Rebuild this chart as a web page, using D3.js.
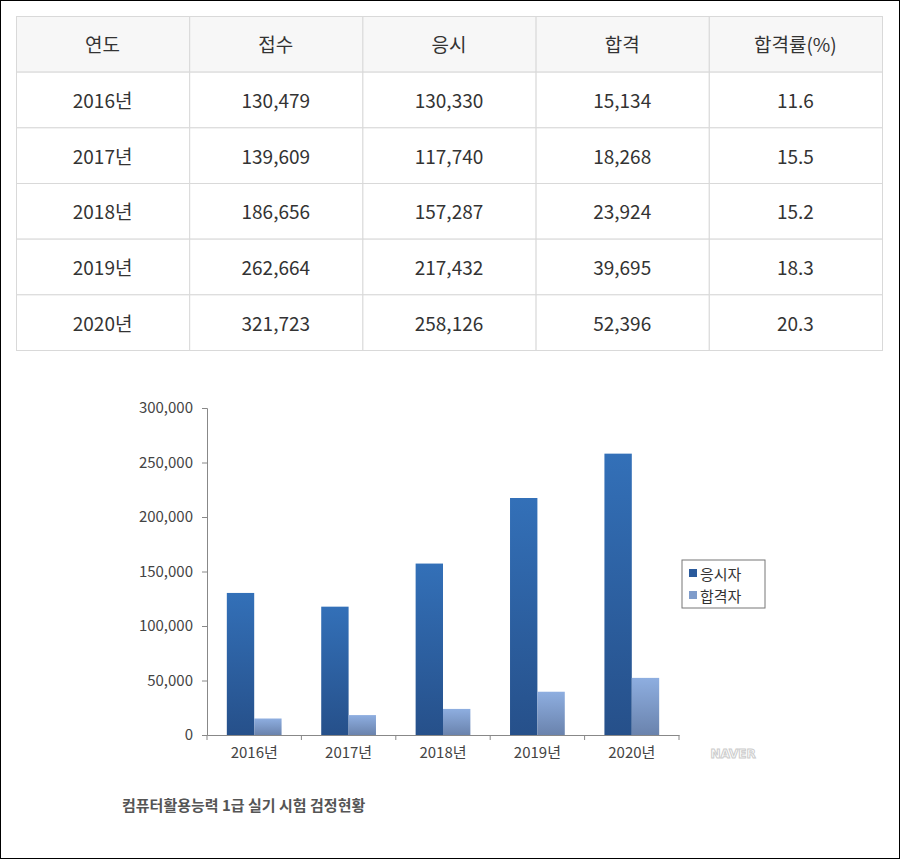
<!DOCTYPE html>
<html><head><meta charset="utf-8">
<script src="https://cdn.jsdelivr.net/npm/d3@7"></script>
<style>
body{margin:0;background:#fff;font-family:"Noto Sans CJK KR","Noto Sans",sans-serif;}
</style></head><body>
<svg id="c" width="900" height="859"></svg>
<script>
// table data
var headers = ["연도", "접수", "응시", "합격", "합격률(%)"];
var years = ["2016년", "2017년", "2018년", "2019년", "2020년"];
var applied = [130479, 139609, 186656, 262664, 321723];
var tested = [130330, 117740, 157287, 217432, 258126];
var passed = [15134, 18268, 23924, 39695, 52396];
var passRate = [11.6, 15.5, 15.2, 18.3, 20.3];
var seriesNames = ["응시자", "합격자"];
var yTicks = [0, 50000, 100000, 150000, 200000, 250000, 300000];

var svg = d3.select("#c");
svg.append("rect").attr("x", 0.5).attr("y", 0.5).attr("width", 899).attr("height", 858)
	.attr("fill", "#fff").attr("stroke", "#000");

//---- table
var tx = d3.scaleBand().domain(d3.range(5)).range([16, 882]);
var ty = d3.scaleBand().domain(d3.range(6)).range([16, 350]);
var fmt = d3.format(",");
var rows = [headers].concat(years.map(function (y, i) {
	return [y, fmt(applied[i]), fmt(tested[i]), fmt(passed[i]), passRate[i].toFixed(1)];
}));
var tg = svg.append("g");
rows.forEach(function (r, ri) {
	r.forEach(function (cell, ci) {
		tg.append("rect").attr("x", tx(ci) + 0.5).attr("y", ty(ri) + 0.5)
			.attr("width", tx.bandwidth()).attr("height", ty.bandwidth())
			.attr("fill", ri == 0 ? "#f7f7f7" : "#fff").attr("stroke", "#d9d9d9");
		tg.append("text").attr("x", tx(ci) + tx.bandwidth() / 2).attr("y", ty(ri) + ty.bandwidth() / 2)
			.attr("text-anchor", "middle").attr("dominant-baseline", "central")
			.attr("font-size", 19).attr("fill", "#333").text(cell);
	});
});

//---- chart
var x = d3.scaleBand().domain(years).range([207, 679]).paddingInner(0.42).paddingOuter(0.21);
var xs = d3.scaleBand().domain(seriesNames).range([0, x.bandwidth()]);
var y = d3.scaleLinear().domain([0, 300000]).range([735, 408]);

var defs = svg.append("defs");
function grad(id, top, bottom) {
	var g = defs.append("linearGradient").attr("id", id).attr("x1", 0).attr("y1", 0).attr("x2", 0).attr("y2", 1);
	g.append("stop").attr("offset", "0%").attr("stop-color", top);
	g.append("stop").attr("offset", "100%").attr("stop-color", bottom);
}
grad("g0", "#3370b8", "#26508a");
grad("g1", "#8eaee0", "#6a83ad");
var fills = ["url(#g0)", "url(#g1)"];

var series = [tested, passed];
series.forEach(function (vals, si) {
	svg.append("g").selectAll("rect").data(vals).enter().append("rect")
		.attr("x", function (d, i) { return x(years[i]) + xs(seriesNames[si]); })
		.attr("y", function (d) { return y(d); })
		.attr("width", xs.bandwidth())
		.attr("height", function (d) { return y(0) - y(d); })
		.attr("fill", fills[si]);
});

var yAxis = svg.append("g").attr("transform", "translate(207,0)")
	.call(d3.axisLeft(y).tickValues(yTicks).tickFormat(d3.format(",")).tickSize(5));
var xAxis = svg.append("g").attr("transform", "translate(0,735)")
	.call(d3.axisBottom(x).tickSize(0).tickPadding(12));
[yAxis, xAxis].forEach(function (a) {
	a.selectAll("path,line").attr("stroke", "#888");
	a.selectAll("text").attr("font-size", 15).attr("fill", "#444")
		.attr("font-family", "'Noto Sans CJK KR',sans-serif");
});
yAxis.selectAll("text").attr("dx", -6);
// x tick marks between categories
var step = x.step();
svg.append("g").selectAll("line").data(d3.range(6)).enter().append("line")
	.attr("x1", function (d) { return 207 + d * (472 / 5); })
	.attr("x2", function (d) { return 207 + d * (472 / 5); })
	.attr("y1", 735).attr("y2", 740).attr("stroke", "#888");

// legend
var lg = svg.append("g").attr("transform", "translate(682,560)");
lg.append("rect").attr("width", 83).attr("height", 48).attr("fill", "#fff").attr("stroke", "#777");
seriesNames.forEach(function (n, i) {
	lg.append("rect").attr("x", 7).attr("y", 9 + i * 22).attr("width", 8).attr("height", 8)
		.attr("fill", i == 0 ? "#2a5a9c" : "#7f9ccb");
	lg.append("text").attr("x", 18).attr("y", 13 + i * 22).attr("dominant-baseline", "central")
		.attr("font-size", 15).attr("fill", "#333").text(n);
});

// watermark
svg.append("text").attr("x", 733).attr("y", 754).attr("text-anchor", "middle")
	.attr("dominant-baseline", "central").attr("font-size", 12).attr("font-weight", "bold")
	.attr("font-family", "DejaVu Sans").attr("fill", "#fff").attr("stroke", "#ccc").attr("stroke-width", 1)
	.text("NAVER");

// title
svg.append("text").attr("x", 122).attr("y", 804).attr("dominant-baseline", "central")
	.attr("font-size", 15).attr("font-weight", "bold").attr("fill", "#555")
	.text("컴퓨터활용능력 1급 실기 시험 검정현황");
</script>
</body></html>
